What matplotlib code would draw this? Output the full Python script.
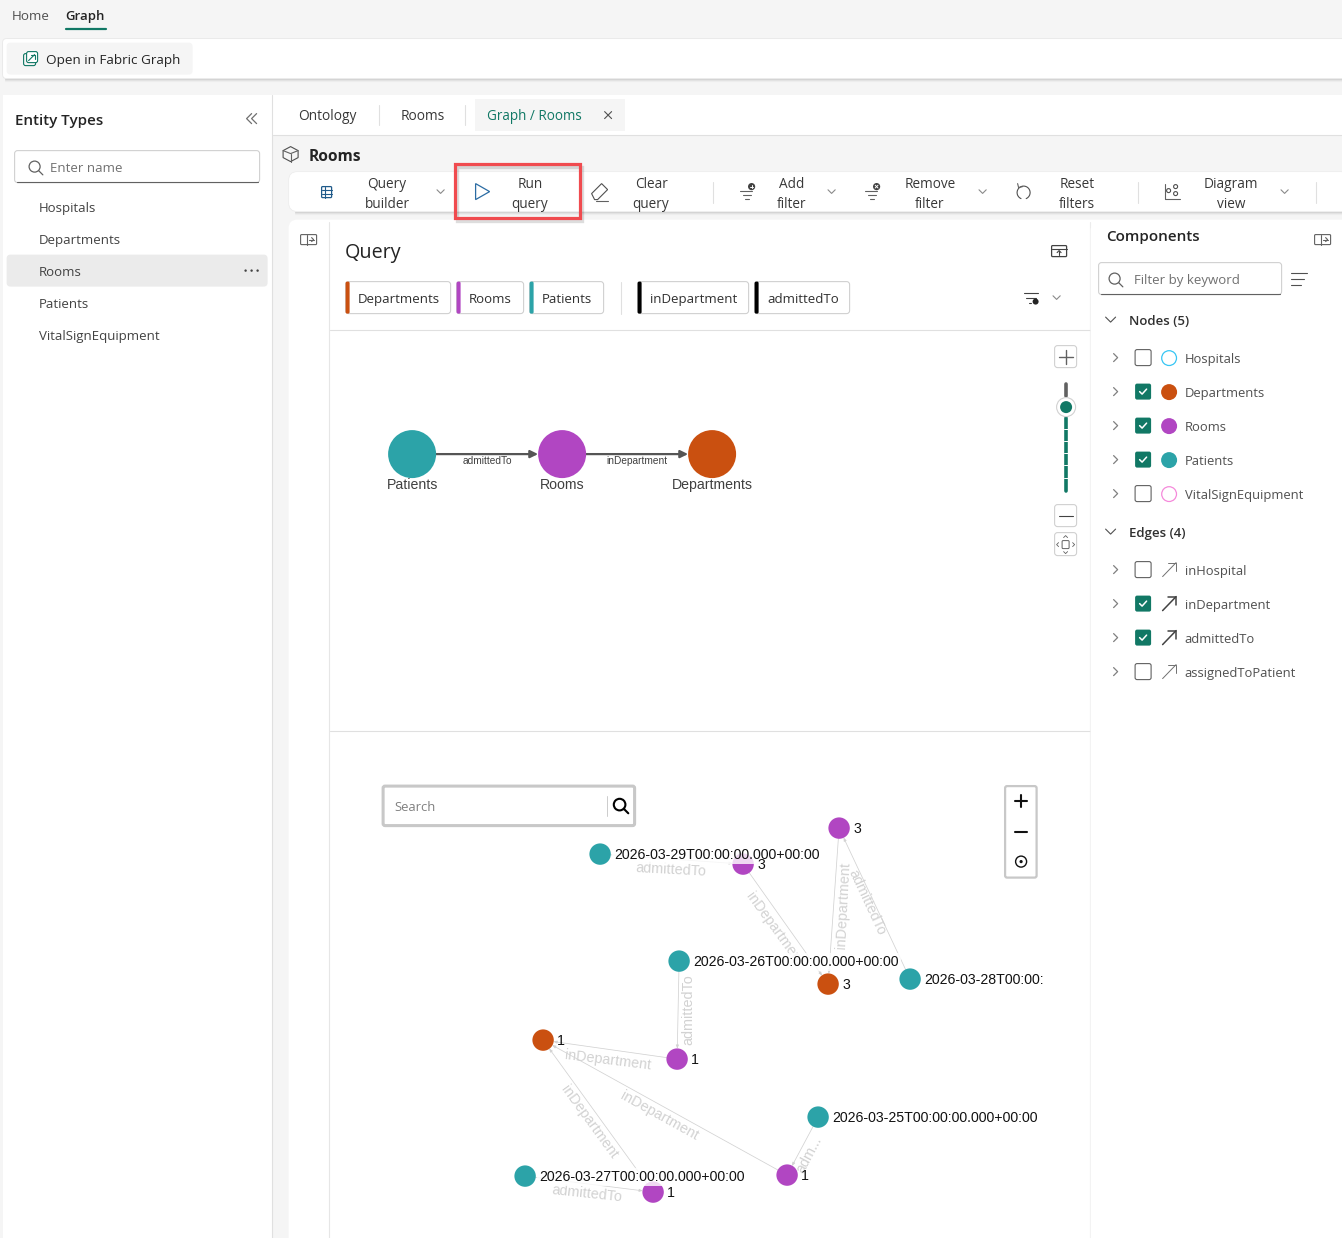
"""Fabric Graph / Rooms query screen, drawn in pixel coordinates."""
import matplotlib
matplotlib.use("Agg")
import matplotlib.pyplot as plt
from matplotlib.patches import Circle, FancyBboxPatch, Polygon, Rectangle, Arc

plt.rcParams["font.family"] = ["Open Sans", "DejaVu Sans"]

W, H = 1342, 1238
TEAL, PURPLE, ORANGE = "#2ca3a8", "#b146c2", "#ca5010"
GREEN = "#117865"
INK = "#242424"
TXT = "#424242"

nav_tabs = ["Home", "Graph"]
doc_tabs = ["Ontology", "Rooms", "Graph / Rooms"]
entity_types = ["Hospitals", "Departments", "Rooms", "Patients", "VitalSignEquipment"]
toolbar_labels = [("Query", "builder"), ("Run", "query"), ("Clear", "query"), ("Add", "filter"),
                  ("Remove", "filter"), ("Reset", "filters"), ("Diagram", "view")]
toolbar_x = [387.5, 530.5, 651.5, 792.5, 930.5, 1077.5, 1231.5]
chip_names = ["Departments", "Rooms", "Patients", "inDepartment", "admittedTo"]
chip_colors = [ORANGE, PURPLE, TEAL, "black", "black"]
chip_left = [346, 457, 530, 638, 755]
chip_right = [451, 524, 604, 749, 850]

node_names = ["Hospitals", "Departments", "Rooms", "Patients", "VitalSignEquipment"]
node_on = [False, True, True, True, False]
node_cols = ["#38c6f4", ORANGE, PURPLE, TEAL, "#f58adb"]
edge_names = ["inHospital", "inDepartment", "admittedTo", "assignedToPatient"]
edge_on = [False, True, True, False]

schema_names = ["Patients", "Rooms", "Departments"]
schema_x = [412.5, 562.5, 712.5]
schema_cols = [TEAL, PURPLE, ORANGE]
schema_edges = ["admittedTo", "inDepartment"]

# result graph: x, y
res_x = [600.5, 743.5, 839.5, 679.5, 828.5, 910.5, 543.5, 677.5, 818.5, 787.5, 525.5, 653.5]
res_y = [854.5, 864.5, 828.5, 961.5, 984.5, 979.5, 1040.5, 1059.5, 1117.5, 1175.5, 1176.5, 1192.5]
res_cols = [TEAL, PURPLE, PURPLE, TEAL, ORANGE, TEAL, ORANGE, PURPLE, TEAL, PURPLE, TEAL, PURPLE]
res_labels = ["2026-03-29T00:00:00.000+00:00", "3", "3", "2026-03-26T00:00:00.000+00:00", "3",
              "2026-03-28T00:00:00.000+00:00", "1", "1", "2026-03-25T00:00:00.000+00:00", "1",
              "2026-03-27T00:00:00.000+00:00", "1"]
res_from = [0, 1, 2, 5, 3, 7, 9, 11, 10, 8]
res_to = [1, 4, 4, 2, 7, 6, 6, 6, 11, 9]
res_edge_names = ["admittedTo", "inDepartment", "inDepartment", "admittedTo", "admittedTo",
                  "inDepartment", "inDepartment", "inDepartment", "admittedTo", "adm..."]
res_edge_lx = [671, 775, 844, 867, 689, 608, 660, 590, 587, 810]
res_edge_ly = [870, 929, 906, 903, 1010, 1061, 1116, 1122, 1194, 1155]
res_edge_rot = [-3, -54, 87, -65, 90, -7, -29, -54, -6, 62]

fig = plt.figure(figsize=(W / 100, H / 100), dpi=100, facecolor="#f5f5f5")
ax = fig.add_axes([0, 0, 1, 1])
ax.set_xlim(0.4, W + 0.4)
ax.set_ylim(H + 0.4, 0.4)
ax.axis("off")


def box(x0, y0, x1, y1, fc="white", ec="none", lw=0, r=0, z=1):
    if r:
        p = FancyBboxPatch((x0, y0), x1 - x0, y1 - y0, boxstyle=f"round,pad=0,rounding_size={r}",
                           fc=fc, ec=ec, lw=lw, zorder=z)
    else:
        p = Rectangle((x0, y0), x1 - x0, y1 - y0, fc=fc, ec=ec, lw=lw, zorder=z)
    ax.add_patch(p)


def txt(x, y, s, size=9.5, color=TXT, ha="left", weight="normal", z=6, **kw):
    return ax.text(x, y, s, fontsize=size, color=color, ha=ha, va="center_baseline", weight=weight, zorder=z, **kw)


def line(xs, ys, color="#616161", lw=0.8, z=5, **kw):
    ax.plot(xs, ys, color=color, lw=lw, zorder=z, solid_capstyle="round", **kw)


def chev_down(x, y, s=3.6, color="#8a8a8a", lw=0.8):
    line([x - s, x, x + s], [y - s / 2, y + s / 2, y - s / 2], color, lw)


def chev_right(x, y, s=4, color="#808080", lw=0.9):
    line([x - s / 2, x + s / 2, x - s / 2], [y - s, y, y + s], color, lw)


def search_icon(x, y, color="#616161", r=5.5, lw=0.9):
    ax.add_patch(Circle((x, y), r, fc="none", ec=color, lw=lw, zorder=5))
    line([x + r * 0.7, x + r * 1.5], [y + r * 0.7, y + r * 1.5], color, lw)


def panel_icon(x, y):
    box(x - 8, y - 5, x + 8, y + 5, fc="none", ec="#616161", lw=0.8, r=1, z=5)
    line([x - 2, x - 2], [y - 5, y + 5])
    line([x, x + 5], [y, y])
    line([x + 3, x + 5, x + 3], [y - 2, y, y + 2])


def check_box(x, y, on):
    if on:
        box(x, y - 8, x + 16, y + 8, fc=GREEN, r=2, z=4)
        line([x + 4.5, x + 7, x + 11.5], [y, y + 2.5, y - 2.5], "white", 1.1)
    else:
        box(x, y - 8, x + 16, y + 8, ec="#616161", lw=0.8, r=2, z=4)


def filter_lines(x, y):
    line([x - 8, x + 4], [y - 3, y - 3])
    line([x - 5, x + 3], [y + 1, y + 1])
    line([x - 3, x + 1], [y + 5, y + 5])


def soft_shadow(x0, x1, y):
    for i, a in enumerate(("#d4d4d4", "#e2e2e2", "#ededed")):
        line([x0, x1], [y + i, y + i], a, 0.75, 0.5)


# page chrome
soft_shadow(5, W, 79.5)
box(3, 39, W + 5, 79, ec="#e8e8e8", lw=0.6, r=4, z=1)
box(7, 43, 193, 75, fc="#f5f5f5", r=4, z=2)
box(3, 95, 272, H + 5, z=1)
line([272.5, 272.5], [95, H], "#e0e0e0", 0.8, 2)
box(273, 95, W, 135, z=1)
line([273, W], [135.5, 135.5], "#e0e0e0", 0.8, 2)
soft_shadow(295, W, 212.5)
box(289, 172, W + 8, 212, ec="#ededed", lw=0.6, r=9, z=1)
box(289, 220, W + 8, H + 20, r=9, z=1)
line([329.5, 329.5], [222, H], "#e6e6e6", 0.8, 2)
line([1090.5, 1090.5], [222, H], "#ececec", 0.8, 2)
line([330, 1090], [330.5, 330.5], "#e0e0e0", 0.8, 2)
line([330, 1090], [731.5, 731.5], "#e0e0e0", 0.8, 2)

# top navigation
txt(12, 15, nav_tabs[0], 9.6, color="#505050")
txt(66, 15, nav_tabs[1], color=INK, weight="semibold", size=9.45)
line([66, 106], [29.5, 29.5], GREEN, 1.6)
txt(46, 59, "Open in Fabric Graph", 9.7, INK, weight="medium")
box(24, 54, 36, 66, fc="none", ec=GREEN, lw=0.8, r=2, z=5)
box(27, 52, 38, 63, fc="white", ec=GREEN, lw=0.8, r=2, z=5)
line([29, 35], [61, 55], GREEN, 0.8)
line([31, 35, 35], [55, 55, 59], GREEN, 0.8)

# entity types panel
txt(15, 120, "Entity Types", 10.9, INK, weight="semibold")
for dx in (0, 5):
    line([252 + dx, 247 + dx, 252 + dx], [114, 119, 124], "#707070", 0.9)
box(15, 151, 260, 183, ec="#d1d1d1", lw=0.8, r=3, z=2)
line([17, 258], [182.7, 182.7], "#616161", 0.8, 3)
search_icon(35, 167)
txt(50, 167, "Enter name", color="#707070")
box(7, 255, 268, 287, fc="#ebebeb", r=4, z=2)
for name, y in zip(entity_types, [207, 239, 271, 303, 335]):
    txt(39, y, name)
for dx in (-6, 0, 6):
    ax.add_patch(Circle((252 + dx, 271), 1.2, fc="#424242", zorder=5))

# document tabs
txt(328, 115, doc_tabs[0], 9.95, color="#383838", ha="center", weight="medium")
txt(423, 115, doc_tabs[1], 9.95, color="#383838", ha="center", weight="medium")
line([379.5, 379.5], [105, 125], "#e0e0e0", 0.8)
line([465.5, 465.5], [105, 125], "#e0e0e0", 0.8)
box(475, 99, 625, 131, fc="#f5f5f5", z=2)
txt(487.5, 115, doc_tabs[2], 9.75, color=GREEN, weight="medium")
line([605, 612], [112, 119], "#505050", 0.8)
line([605, 612], [119, 112], "#505050", 0.8)

# Rooms heading with cube icon
ax.add_patch(Polygon([(291, 147), (298.5, 151), (298.5, 158), (291, 162), (283.5, 158), (283.5, 151)],
                     closed=True, fc="none", ec="#505050", lw=0.8, zorder=5))
line([283.5, 291, 298.5], [151, 154, 151])
line([291, 291], [154, 162])
txt(309, 155, "Rooms", 11.2, INK, weight="bold")

# toolbar
for x, (a, b) in zip(toolbar_x, toolbar_labels):
    txt(x, 182.5, a, 9.8, "#383838", ha="center", weight="medium")
    txt(x, 202.5, b, 9.8, "#383838", ha="center", weight="medium")
for x in (441, 832, 983, 1285):
    chev_down(x, 192)
for x in (713, 1138, 1316):
    line([x, x], [182, 203], "#e0e0e0", 0.8)
BLUE = "#2b6ca3"
box(322, 187, 332, 198, fc="none", ec="#1f5a8a", lw=0.9, r=1, z=5)
for y in (190.5, 194):
    line([322, 332], [y, y], "#1f5a8a", 0.8)
line([325, 325], [187, 198], "#1f5a8a", 0.8)
ax.add_patch(Polygon([(476, 184), (490, 192), (476, 200)], closed=True, fc="none", ec=BLUE, lw=0.9, zorder=5))
ax.add_patch(Polygon([(592, 194), (602, 184), (608, 190), (598, 200), (595, 200)], closed=True,
                     fc="none", ec="#505050", lw=0.8, zorder=5))
line([596, 608], [201, 201])
filter_lines(748, 194)
ax.add_patch(Circle((752, 187), 3.6, fc="#424242", zorder=5))
line([750.4, 753.6], [187, 187], "white", 0.7, 6)
line([752, 752], [185.4, 188.6], "white", 0.7, 6)
filter_lines(873, 194)
ax.add_patch(Circle((877, 187), 3.6, fc="#424242", zorder=5))
line([875.6, 878.4], [185.6, 188.4], "white", 0.7, 6)
line([875.6, 878.4], [188.4, 185.6], "white", 0.7, 6)
ax.add_patch(Arc((1024, 193), 13, 13, theta1=-250, theta2=70, color="#505050", lw=0.8, zorder=5))
line([1018, 1019, 1023], [184, 188, 187])
line([1165, 1165, 1180], [184, 199, 199])
for cx, cy in ((1169, 191), (1176, 187), (1176, 194)):
    ax.add_patch(Circle((cx, cy), 2, fc="none", ec="#505050", lw=0.8, zorder=5))

# red call-out around Run query, soft shadow then frame
box(457, 167, 582, 221, fc="none", ec="#00000022", lw=2.4, z=6)
box(455.5, 164.5, 580, 218, fc="none", ec="#f04b4f", lw=2.3, z=7)

# query header
panel_icon(309, 240)
txt(345, 251, "Query", 14.2, INK, weight="medium")
box(1052, 246, 1067, 257, fc="none", ec="#424242", lw=0.9, r=1, z=5)
line([1052, 1067], [249.5, 249.5], "#424242", 0.8)
line([1059.5, 1059.5], [251, 255], "#424242", 0.8)
line([1057.5, 1059.5, 1061.5], [253, 251, 253], "#424242", 0.8)

for name, col, x0, x1 in zip(chip_names, chip_colors, chip_left, chip_right):
    box(x0, 282, x1, 314, ec="#d1d1d1", lw=0.8, r=3, z=2)
    box(x0, 282, x0 + 4, 314, fc=col, r=1.5, z=3)
    txt(x0 + 12.5, 298, name, color="#303030")
line([621.5, 621.5], [282, 314], "#e0e0e0", 0.8)
line([1024, 1038], [293, 293], "#424242", 0.8)
line([1026, 1036], [298, 298], "#424242", 0.8)
line([1029, 1031], [303, 303], "#424242", 0.8)
ax.add_patch(Circle((1036, 302), 3, fc="#242424", zorder=5))
chev_down(1057, 298)

# zoom slider of the schema view
for y0, y1 in ((346, 368), (505, 527), (533, 556)):
    box(1055, y0, 1077, y1, ec="#d1d1d1", lw=0.8, r=3, z=2)
line([1059, 1073], [357, 357], "#616161", 1.0)
line([1066, 1066], [350, 364], "#616161", 1.0)
line([1059, 1073], [516, 516], "#424242", 0.8)
box(1062.5, 541, 1069.5, 549, fc="none", ec="#616161", lw=0.7, r=1, z=5)
line([1059, 1057, 1059], [543, 545, 547], "#616161", 0.6)
line([1073, 1075, 1073], [543, 545, 547], "#616161", 0.6)
line([1064, 1066, 1068], [538, 536, 538], "#616161", 0.6)
line([1064, 1066, 1068], [552, 554, 552], "#616161", 0.6)
ax.plot([1066.5, 1066.5], [384, 396], color="#616161", lw=2.6, zorder=3, solid_capstyle="round")
ax.plot([1066.5, 1066.5], [418, 491], color=GREEN, lw=2.6, zorder=3, solid_capstyle="round")
for y in (429, 441, 453, 465, 478):
    line([1064, 1069], [y, y], "white", 0.7, 4)
ax.add_patch(Circle((1066.5, 407.5), 9.5, fc="white", ec="#d1d1d1", lw=0.8, zorder=4))
ax.add_patch(Circle((1066.5, 407.5), 6, fc=GREEN, zorder=5))

# schema graph
for name, x, col in zip(schema_names, schema_x, schema_cols):
    ax.add_patch(Circle((x, 454.5), 24, fc=col, zorder=3))
    txt(x + 0.5, 484, name, 10.2, "#404040", ha="center", family="Liberation Sans", z=4)
for i, name in enumerate(schema_edges):
    x0, x1 = schema_x[i], schema_x[i + 1]
    ax.annotate("", xy=(x1 - 24, 454.5), xytext=(x0 + 24, 454.5), zorder=2,
                arrowprops=dict(arrowstyle="-|>,head_length=0.45,head_width=0.22", color="#555555", lw=1.6,
                                shrinkA=0, shrinkB=0))
    txt((x0 + x1) / 2, 460, name, 7.3, "#404040", ha="center", family="Liberation Sans", z=4)

# components panel
box(1091, 222, W + 8, H + 20, r=9, z=2)
txt(1107, 236, "Components", 10.9, INK, weight="semibold")
panel_icon(1323, 240)
box(1099, 263, 1282, 295, ec="#d1d1d1", lw=0.8, r=3, z=3)
line([1101, 1280], [294.7, 294.7], "#616161", 0.8, 4)
search_icon(1115, 279)
txt(1134, 279, "Filter by keyword", color="#707070")
line([1291, 1307], [273.5, 273.5], "#505050", 0.8)
line([1291, 1304], [279.5, 279.5], "#505050", 0.8)
line([1291, 1301], [285.5, 285.5], "#505050", 0.8)

chev_down(1111, 320, 5, "#505050")
txt(1129, 320, "Nodes (5)", color="#303030", weight="semibold")
for name, on, col, y in zip(node_names, node_on, node_cols, [358, 392, 426, 460, 494]):
    chev_right(1116, y)
    check_box(1135.5, y, on)
    if on:
        ax.add_patch(Circle((1169.5, y + 0.5), 8, fc=col, zorder=4))
    else:
        ax.add_patch(Circle((1169.5, y + 0.5), 7.4, fc="none", ec=col, lw=0.9, zorder=4))
    txt(1185, y, name, 9.4, color="#505050")

chev_down(1111, 532, 5, "#505050")
txt(1129, 532, "Edges (4)", color="#303030", weight="semibold")
for name, on, y in zip(edge_names, edge_on, [570, 604, 638, 672]):
    chev_right(1116, y)
    check_box(1135.5, y, on)
    col, lw = ("#424242", 1.1) if on else ("#707070", 0.7)
    line([1163, 1176.5], [y + 7, y - 7], col, lw)
    line([1168.5, 1176.5, 1176.5], [y - 7, y - 7, y + 1], col, lw)
    txt(1185, y, name, 9.4, color="#505050")

# result graph controls
box(383.5, 786.5, 635, 826, ec="#c8c8c8", lw=2.2, r=2, z=2)
txt(395, 806, "Search", 9.4, "#808080")
line([607.5, 607.5], [796, 816], "#cccccc", 0.7)
search_icon(620, 805, "black", 5.8, 1.5)
box(1005.5, 786.5, 1037, 878, ec="#c8c8c8", lw=1.6, r=2, z=2)
line([1015, 1027], [801.5, 801.5], "#111111", 1.5)
line([1021, 1021], [795.5, 807.5], "#111111", 1.5)
line([1015, 1027], [832, 832], "#111111", 1.5)
ax.add_patch(Circle((1021.5, 862), 5.5, fc="none", ec="#111111", lw=1.0, zorder=5))
ax.add_patch(Circle((1021.5, 862), 1.6, fc="#111111", zorder=5))

# result graph: edges < edge labels < nodes < node labels
for a, b, name, lx, ly, rot in zip(res_from, res_to, res_edge_names, res_edge_lx, res_edge_ly, res_edge_rot):
    ax.annotate("", xy=(res_x[b], res_y[b]), xytext=(res_x[a], res_y[a]), zorder=2,
                arrowprops=dict(arrowstyle="-|>,head_length=0.2,head_width=0.08", color="#d2d2d2", lw=0.55,
                                shrinkA=7.5, shrinkB=7.5))
    ax.text(lx, ly, name, fontsize=10.4, color="#d2d2d2", family="Liberation Sans", ha="center",
            va="center", rotation=rot, rotation_mode="anchor", zorder=3)

# the result canvas ends at x=1043, long labels get cut there
clip = Rectangle((330, 732), 713.4, H - 732, transform=ax.transData)
for x, y, col, label in zip(res_x, res_y, res_cols, res_labels):
    ax.add_patch(Circle((x, y), 10.7, fc=col, zorder=4))
    long = len(label) > 1
    t = ax.text(x + 14, y - 0.6, label, fontsize=10.2, color="#111111",
                family="Liberation Sans", va="center_baseline", zorder=5, clip_on=True,
                bbox=dict(fc="white", ec="none", alpha=0.8, pad=1.5) if long else None)
    t.set_clip_path(clip)
    if t.get_bbox_patch() is not None:
        t.get_bbox_patch().set_clip_path(clip)

fig.savefig("out.png", dpi=100, facecolor=fig.get_facecolor())
